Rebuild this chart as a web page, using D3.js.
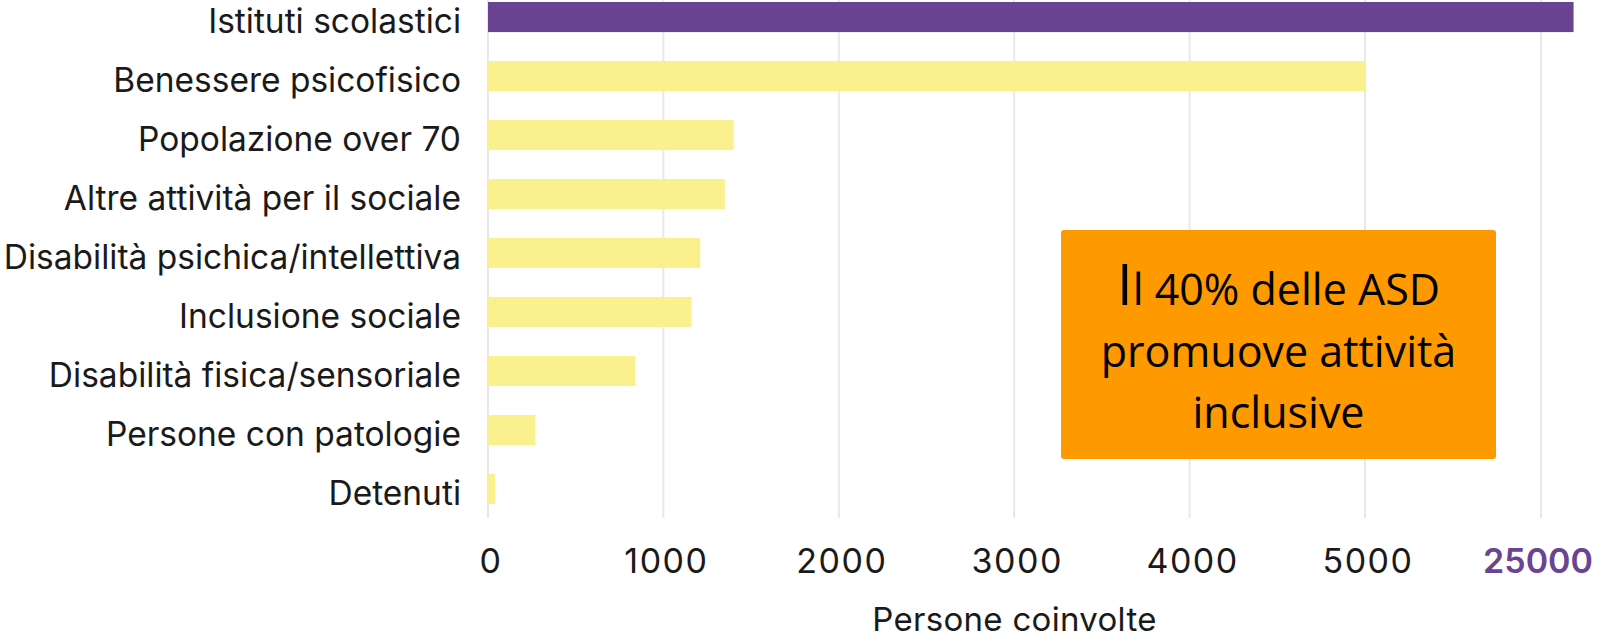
<!DOCTYPE html>
<html lang="it">
<head>
  <meta charset="UTF-8">
  <title>Persone coinvolte</title>
  <script src="https://d3js.org/d3.v7.min.js"></script>
  <style>
    html, body { margin: 0; padding: 0; background: #fff; }
    svg { display: block; }
  </style>
</head>
<body>
  <script>
    // dati
    const categories = [
      "Istituti scolastici",
      "Benessere psicofisico",
      "Popolazione over 70",
      "Altre attività per il sociale",
      "Disabilità psichica/intellettiva",
      "Inclusione sociale",
      "Disabilità fisica/sensoriale",
      "Persone con patologie",
      "Detenuti"
    ];
    const values = [28700, 5000, 1400, 1350, 1210, 1160, 840, 270, 40];
    const tickValues = [0, 1000, 2000, 3000, 4000, 5000, 25000];
    const calloutLines = ["l 40% delle ASD", "promuove attività", "inclusive"];

    const width = 1600, height = 638;
    const purple = "#6a4492", yellow = "#fbf08e";
    const labelFont = "Inter, Roboto, sans-serif";

    const svg = d3.select("body")
      .append("svg")
      .attr("width", width)
      .attr("height", height)
      .attr("viewBox", [0, 0, width, height]);

    // asse spezzato: 5000 -> 25000 compresso in un solo intervallo
    const x = d3.scaleLinear()
      .domain([0, 5000, 25000])
      .range([488, 1365, 1541]);

    const y = d3.scaleBand()
      .domain(categories)
      .range([2, 504])
      .paddingInner(0.49)
      .paddingOuter(0);

    // griglia
    svg.append("g")
      .selectAll("line")
      .data(tickValues)
      .join("line")
      .attr("x1", d => x(d))
      .attr("x2", d => x(d))
      .attr("y1", 0)
      .attr("y2", 518)
      .attr("stroke", "#e8e8e8")
      .attr("stroke-width", 2);

    // barre
    svg.append("g")
      .selectAll("rect")
      .data(values)
      .join("rect")
      .attr("x", x(0))
      .attr("y", (d, i) => y(categories[i]))
      .attr("width", d => x(d) - x(0))
      .attr("height", y.bandwidth())
      .attr("fill", (d, i) => i === 0 ? purple : yellow);

    // etichette categorie (linea di base circa al fondo della barra)
    svg.append("g")
      .selectAll("text")
      .data(categories)
      .join("text")
      .attr("x", 461)
      .attr("y", d => y(d) + y.bandwidth() + 1)
      .attr("text-anchor", "end")
      .attr("font-family", labelFont)
      .attr("font-size", 33.5)
      .attr("fill", "#1a1a1a")
      .text(d => d);

    // etichette asse x
    svg.append("g")
      .selectAll("text")
      .data(tickValues)
      .join("text")
      .attr("x", d => d === 25000 ? x(d) - 3 : x(d) + 3)
      .attr("y", 573)
      .attr("text-anchor", "middle")
      .attr("font-family", labelFont)
      .attr("font-size", 34)
      .attr("letter-spacing", d => d === 25000 ? 0 : 1.5)
      .attr("font-weight", d => d === 25000 ? 600 : 400)
      .attr("fill", d => d === 25000 ? purple : "#1a1a1a")
      .text(d => d);

    svg.append("text")
      .attr("x", (x(0) + x(25000)) / 2)
      .attr("y", 631)
      .attr("text-anchor", "middle")
      .attr("font-family", labelFont)
      .attr("font-size", 33)
      .attr("letter-spacing", 0.3)
      .attr("fill", "#1a1a1a")
      .text("Persone coinvolte");

    // riquadro arancione
    const box = { x: 1061, y: 230, w: 435, h: 229 };
    svg.append("rect")
      .attr("x", box.x)
      .attr("y", box.y)
      .attr("width", box.w)
      .attr("height", box.h)
      .attr("rx", 3)
      .attr("fill", "#fe9900");

    const callout = svg.append("text")
      .attr("text-anchor", "middle")
      .attr("font-family", "'Open Sans', sans-serif")
      .attr("font-size", 43)
      .attr("fill", "#000");

    calloutLines.forEach((line, i) => {
      const t = callout.append("tspan")
        .attr("x", box.x + box.w / 2)
        .attr("y", 305 + i * 61.5);
      if (i === 0) {
        t.append("tspan").attr("font-size", 56).text("I");
      }
      t.append("tspan").text(line);
    });
  </script>
</body>
</html>
